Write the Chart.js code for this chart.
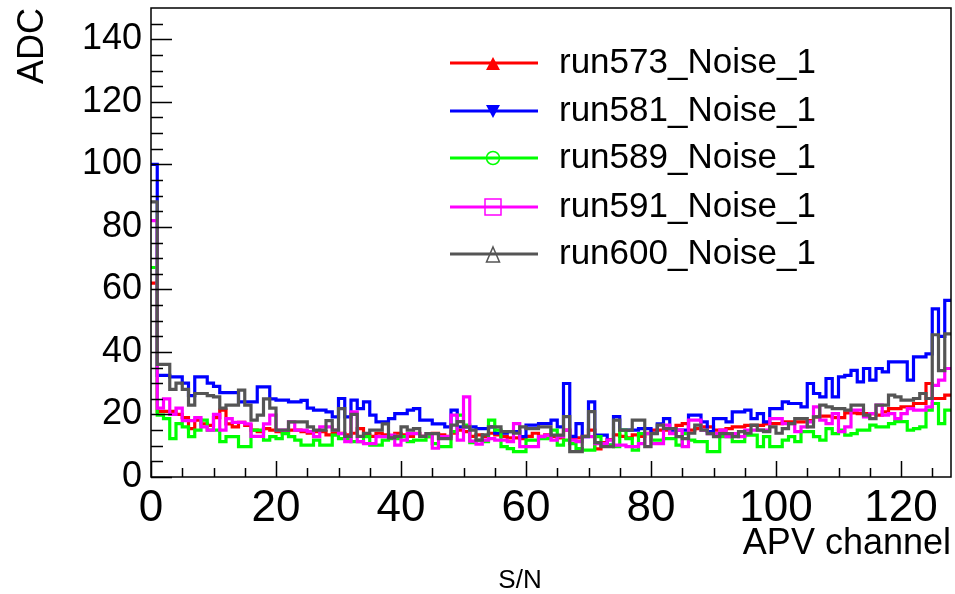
<!DOCTYPE html>
<html>
<head>
<meta charset="utf-8">
<script src="https://cdn.jsdelivr.net/npm/chart.js@4.4.0/dist/chart.umd.min.js"></script>
<style>
  html, body { margin: 0; padding: 0; background: #ffffff; }
  #c { display: block; }
</style>
</head>
<body>
<canvas id="c" width="955" height="594"></canvas>
<script>
// Noise per APV channel (ADC), one value per channel 0..127
const seriesNames = ['run573_Noise_1', 'run581_Noise_1', 'run589_Noise_1', 'run591_Noise_1', 'run600_Noise_1'];
const seriesColors = ['#ff0000', '#0000ff', '#00ff00', '#ff00ff', '#555555'];
const markerStyles = ['triangleUpFilled', 'triangleDownFilled', 'circleOpen', 'squareOpen', 'triangleUpOpen'];

const run573 = [62,
  21,21,21,20,19,15.5,18.2,17,16.5,19,21.4,17,16,17.5,16.5,
  15,14.5,15.5,15,14.5,14,15,15,14.5,14,14.5,14.5,13.5,14,14,13.5,
  14,15.5,13.5,13,14,13.5,13,14,13.5,13,14,13,12.9,14,13.5,13,
  14,15,14.5,13,13.5,12.9,14,13.5,13,12.5,12.5,12.3,13,14,13,13.5,
  13,12.5,15,12.5,12.5,13,15,9,11,12,13.5,13,12.5,13.5,13,14,
  15,15,15,14,16.5,17.1,15,15.5,16,16,15,15,15.5,16,16,16.5,
  16.5,16.5,17,17.1,17.1,17.6,17.6,17.6,17.6,18,19.2,19.5,19.5,19,19,20.5,
  20.5,20.3,20.3,20.3,19.8,20.8,21.9,21.9,22.4,22.4,23.5,23.5,29.9,25.1,25.1,26.2];

const run581 = [100,32.5,32.5,32,32,30,26,32,32,30,29,27,27,27,24,24,24,28.8,28.8,25,24.6,24.6,24,24,24.5,22,
  21.4,21.4,20.8,19.2,25.1,19.2,24.6,21.9,24,19.8,17.6,17.6,18.7,20.3,20.3,21.4,21.9,18.2,18.2,17,17,16,21.4,16,16,16,
  15.5,15.5,16,14,14,14.5,14.5,12.9,16.6,16.6,17.1,17.1,18.2,16,29.9,13,17.1,12.9,24,13.4,13.4,10.2,19.3,15,15,15,15.5,15.5,14,17,18.7,15,15,
  15,19.8,19.8,17.6,14.5,18.7,18.7,17.6,20.8,20.8,21.4,18.7,20.3,17.6,21.9,21.9,24,23.5,23.5,22.4,
  29.9,26.7,25.6,31.5,25.6,32,32.5,34.1,30.4,34.7,31,34.7,33.6,36.8,36.8,36.8,31,38.4,38.4,39.4,53.8,45,56.5];

const run589 = [67,19.8,18.7,12.3,17.1,16,12.9,15,18.2,15,15,11.3,12.9,12.9,9.7,9.7,15,15,11.8,12.9,12.3,13.9,12.9,11.8,10.2,10.2,
  11.8,10.2,10.2,13.4,12.3,12.3,11.3,11.3,12.9,10.2,10.2,11.8,12.3,12.3,12.9,11.3,11.8,11.8,12.9,10.7,9.7,9.7,14.5,19.8,16.6,11,
  11.8,11.3,18.2,15,9.7,9.1,8.1,8.1,11.8,11.8,12.3,12.3,15,10.2,11.8,10.7,9.1,8.6,8.6,12.9,10.2,10.2,9.7,15,12.3,
  8.6,13.9,13.9,11.8,11.8,12.3,12.3,10.2,13.9,11.8,11.3,11.3,8.1,8.1,12.9,12.9,11.3,11.3,13.4,13.4,9.7,12.9,9.7,9.7,11.8,12.9,
  11.3,14.5,14.5,12.9,11.8,15.5,13.9,15,13.4,13.9,15,15,16.6,16,16,17.1,17.7,17.7,15,15.5,16,21.4,23.5,17.1,21.4];

const run591 = [82,22,25,20,22,18,18,19,16,15,20,15,18.7,17.5,17.5,17,13,13,17,19.8,15,15,17.6,15,15,14.5,
  12.9,16,16,15,13.9,11.3,20.8,11.3,10.7,10.7,12.9,12.9,13.4,10.2,11.8,13.9,13.9,13,13.9,9.2,12.9,12.9,19.8,11.8,25.6,11.5,
  10.5,11.8,12.3,11.8,11.8,11.3,17.1,9.7,9.7,9.7,12.9,13.4,11.8,12.9,15,11.8,11.3,12.9,12.9,10.7,10.7,11.8,10.2,10.2,9.7,
  9.7,10.7,13.9,10.7,10.7,16.6,13.9,15,9.7,18.2,18.2,15,13.9,13.9,15,12.9,13.9,12.9,15,15,15,15,18.7,18.7,17.1,17.1,
  14.5,16,17.6,22.4,18.2,17.1,20.3,14.5,16,21.4,21.4,19.2,20.3,23,19.8,20.3,18.7,20.3,21.9,21.4,21.4,22.4,29.3,31,34.7];

const run600 = [88,36,36,28,30,28,23,26.7,26.7,26,25.6,22,23,23,27.8,23,18.2,19.8,25,22,15,15,17.6,17.6,17.6,16,
  15,15,18,15,21.9,13,20,13,14,15,15,17,12.5,13,16,15,15.5,13,13.9,13.9,12.3,12.3,16.6,17.7,16,15,
  11.8,13.5,16,16,14.5,14.5,14,16,15.5,15.5,16,16,13.4,13.4,19.3,8.1,8.1,13,20.9,11,9.7,9.7,18.2,15,15,18.2,18.2,9.7,13.9,16.6,15.5,15.5,12.9,
  12.3,14,16.6,15,13.9,12.9,13.9,13.9,12.9,14.5,14,16.6,15,14.5,16,14,15.5,17.1,18.7,18.7,
  16,19.2,23,22.4,21.9,21.9,21.4,23,23,19.8,18.7,23,23,26.2,25.6,24.6,24.6,25.1,26.7,25.1,45.5,34,45.8];

const seriesValues = [run573, run581, run589, run591, run600];

const xTickValues = [0, 20, 40, 60, 80, 100, 120];
const yTickValues = [0, 20, 40, 60, 80, 100, 120, 140];

const FONT = "'Liberation Sans', Arial, Helvetica, sans-serif";

// Each bin i covers [i, i+1); a closing point at the upper edge finishes the last bin
function binPoints(values) {
  const pts = values.map((v, i) => ({ x: i, y: v }));
  pts.push({ x: values.length, y: values[values.length - 1] });
  return pts;
}

const datasets = seriesValues.map((vals, i) => ({
  label: seriesNames[i],
  data: binPoints(vals),
  borderColor: seriesColors[i],
  borderWidth: 3.2,
  stepped: 'before',
  pointRadius: 0,
  fill: false,
  tension: 0,
  order: seriesValues.length - i   // later runs drawn on top
}));

function drawMarker(ctx, style, cx, cy, color) {
  ctx.save();
  ctx.strokeStyle = color;
  ctx.fillStyle = color;
  ctx.lineWidth = 1.5;
  ctx.beginPath();
  if (style === 'triangleUpFilled') {
    ctx.moveTo(cx, cy - 6); ctx.lineTo(cx + 7, cy + 7); ctx.lineTo(cx - 7, cy + 7); ctx.closePath();
    ctx.fill();
  } else if (style === 'triangleDownFilled') {
    ctx.moveTo(cx - 7, cy - 6); ctx.lineTo(cx + 7, cy - 6); ctx.lineTo(cx, cy + 7); ctx.closePath();
    ctx.fill();
  } else if (style === 'circleOpen') {
    ctx.arc(cx, cy, 6.5, 0, Math.PI * 2);
    ctx.stroke();
  } else if (style === 'squareOpen') {
    ctx.rect(cx - 8, cy - 8, 16, 16);
    ctx.stroke();
  } else if (style === 'triangleUpOpen') {
    ctx.moveTo(cx, cy - 7); ctx.lineTo(cx + 6.5, cy + 8); ctx.lineTo(cx - 6.5, cy + 8); ctx.closePath();
    ctx.stroke();
  }
  ctx.restore();
}

const frameLegend = {
  id: 'frameLegend',
  afterDatasetsDraw(chart) {
    const { ctx, chartArea: a, scales } = chart;
    const xs = scales.x, ys = scales.y;
    ctx.save();
    // frame
    ctx.strokeStyle = '#000';
    ctx.lineWidth = 1.5;
    ctx.strokeRect(a.left, a.top, a.right - a.left, a.bottom - a.top);
    // inward tick marks, major every 20, minor every 5
    ctx.beginPath();
    for (let v = 0; v < ys.max; v += 5) {
      const py = Math.round(ys.getPixelForValue(v)) + 0.5;
      const len = v % 20 === 0 ? 21 : 12;
      ctx.moveTo(a.left, py); ctx.lineTo(a.left + len, py);
    }
    for (let v = 0; v < xs.max; v += 5) {
      const px = Math.round(xs.getPixelForValue(v)) + 0.5;
      const len = v % 20 === 0 ? 16 : 9;
      ctx.moveTo(px, a.bottom); ctx.lineTo(px, a.bottom - len);
    }
    ctx.stroke();

    // legend
    const rowY = [63, 111, 158, 207, 254];
    chart.data.datasets.forEach((ds, i) => {
      const y = rowY[i];
      ctx.strokeStyle = ds.borderColor;
      ctx.lineWidth = 3;
      ctx.beginPath();
      ctx.moveTo(450, y); ctx.lineTo(538, y);
      ctx.stroke();
      drawMarker(ctx, markerStyles[i], 493, y, ds.borderColor);
      ctx.fillStyle = '#000';
      ctx.font = '35px ' + FONT;
      ctx.textAlign = 'left';
      ctx.textBaseline = 'alphabetic';
      ctx.fillText(ds.label, 559, y + 10);
    });

    // caption under the axis title
    ctx.fillStyle = '#000';
    ctx.font = '26px ' + FONT;
    ctx.textAlign = 'center';
    ctx.textBaseline = 'alphabetic';
    ctx.fillText('S/N', 520, 588);
    ctx.restore();
  }
};

new Chart(document.getElementById('c'), {
  type: 'line',
  data: { datasets },
  plugins: [frameLegend],
  options: {
    responsive: false,
    animation: false,
    layout: { padding: { top: 8, right: 4, left: 0, bottom: 0 } },
    plugins: { legend: { display: false }, tooltip: { enabled: false }, title: { display: false } },
    elements: { line: { borderJoinStyle: 'miter', borderCapStyle: 'butt' } },
    scales: {
      x: {
        type: 'linear',
        min: 0,
        max: 128,
        afterBuildTicks(scale) { scale.ticks = xTickValues.map(v => ({ value: v })); },
        afterFit(scale) { scale.height = 117; scale.paddingLeft = 0; scale.paddingRight = 0; },
        grid: { display: false, drawTicks: false },
        border: { display: false },
        ticks: {
          autoSkip: false, maxRotation: 0, color: '#000', padding: 5,
          font: { family: FONT, size: 44 },
          callback: v => String(v)
        },
        title: {
          display: true, text: 'APV channel', align: 'end', color: '#000',
          font: { family: FONT, size: 36 }, padding: { top: 0, bottom: 28 }
        }
      },
      y: {
        type: 'linear',
        min: 0,
        max: 150,
        afterBuildTicks(scale) { scale.ticks = yTickValues.map(v => ({ value: v })); },
        afterFit(scale) { scale.width = 151; scale.paddingTop = 0; scale.paddingBottom = 0; },
        grid: { display: false, drawTicks: false },
        border: { display: false },
        ticks: {
          autoSkip: false, color: '#000', padding: 9,
          font: { family: FONT, size: 36 },
          callback: v => String(v)
        },
        title: {
          display: true, text: 'ADC', align: 'end', color: '#000',
          font: { family: FONT, size: 36 }, padding: { top: 11, bottom: 0 }
        }
      }
    }
  }
});
</script>
</body>
</html>
